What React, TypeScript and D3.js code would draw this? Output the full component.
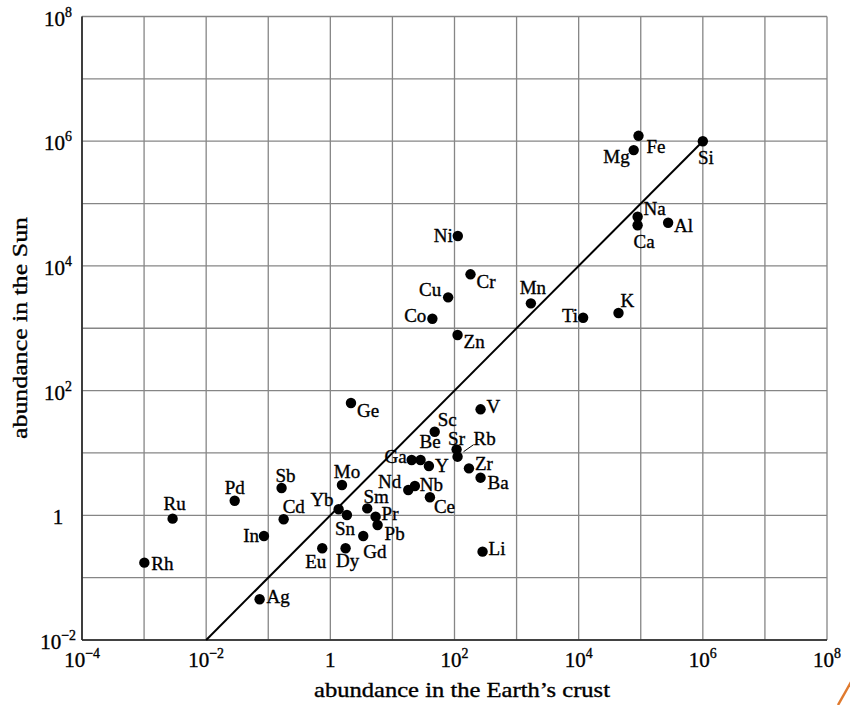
import React from "react";
import * as d3 from "d3";

// ---- data ----
const elements = [
  "Fe", "Mg", "Si", "Na", "Ca", "Al", "Ni", "Cr", "Cu", "Co", "Zn", "Mn", "Ti", "K",
  "Ge", "V", "Sc", "Sr", "Rb", "Ga", "Be", "Y", "Zr", "Ba", "Nd", "Nb", "Ce", "Mo",
  "Sm", "Yb", "Sn", "Pr", "Pb", "Gd", "Eu", "Dy", "Li", "Ru", "Rh", "Pd", "Sb", "Cd",
  "In", "Ag",
];
const crustAbundance = [
  92000, 77000, 1e6, 89000, 89000, 276000, 113, 181, 79, 44, 112, 1700, 11800, 43800,
  2.15, 263, 48, 108, 112, 20.4, 28.4, 38.7, 171, 263, 18.0, 23.0, 40.2, 1.54,
  3.93, 1.36, 1.85, 5.36, 5.77, 3.39, 0.741, 1.76, 283, 0.00288, 0.00101, 0.0288, 0.164, 0.177,
  0.0853, 0.0726,
];
const sunAbundance = [
  1.22e6, 7.2e5, 1e6, 61500, 44800, 49300, 30200, 7330, 3130, 1420, 780, 2510, 1476, 1758,
  63.2, 50.1, 21.9, 11.4, 8.71, 7.71, 7.71, 6.18, 5.66, 4.01, 2.55, 2.95, 1.95, 3.06,
  1.29, 1.25, 1.01, 0.95, 0.70, 0.466, 0.296, 0.296, 0.261, 0.883, 0.174, 1.71, 2.74, 0.863,
  0.466, 0.045,
];
const xTickExponents = [-4, -2, 0, 2, 4, 6, 8];
const yTickExponents = [-2, 0, 2, 4, 6, 8];
const equalityLine = [1e-2, 1e6];

// label placement: [dx, dy, anchor]
const labelPlacement: Record<string, [number, number, string]> = {
  Fe: [8, 17, "start"], Mg: [-4, 13, "end"], Si: [3, 23, "middle"], Na: [6, -2, "start"],
  Ca: [-4, 23, "start"], Al: [6, 9, "start"], Ni: [-5, 6, "end"], Cr: [6, 14, "start"],
  Cu: [-7, -1, "end"], Co: [-6, 3, "end"], Zn: [6, 13, "start"], Mn: [2, -9, "middle"],
  Ti: [-5, 4, "end"], K: [2, -6, "start"], Ge: [6, 14, "start"], V: [6, 4, "start"],
  Sc: [3, -6, "start"], Sr: [0, -4, "middle"], Rb: [16, -12, "start"], Ga: [-5, 3, "end"],
  Be: [-1, -12, "start"], Y: [6, 6, "start"], Zr: [6, 2, "start"], Ba: [7, 11, "start"],
  Nd: [-7, -2, "end"], Nb: [5, 5, "start"], Ce: [4, 16, "start"], Mo: [5, -7, "middle"],
  Sm: [9, -5, "middle"], Yb: [-5, -3, "end"], Sn: [-2, 20, "middle"], Pr: [6, 3, "start"],
  Pb: [7, 15, "start"], Gd: [0, 22, "start"], Eu: [4, 20, "end"], Dy: [2, 19, "middle"],
  Li: [6, 3, "start"], Ru: [2, -9, "middle"], Rh: [7, 7, "start"], Pd: [0, -7, "middle"],
  Sb: [4, -6, "middle"], Cd: [-1, -6, "start"], In: [-5, 6, "end"], Ag: [7, 4, "start"],
};

const FONT = "Liberation Serif, Times New Roman, serif";

export default function App() {
  const W = 850, H = 705;
  const left = 82, right = 827, top = 16.5, bottom = 640;
  const x = d3.scaleLog().domain([1e-4, 1e8]).range([left, right]);
  const y = d3.scaleLog().domain([1e-2, 1e8]).range([bottom, top]);
  const xGrid = d3.range(-4, 9).map((e) => Math.pow(10, e));
  const yGrid = d3.range(-2, 9).map((e) => Math.pow(10, e));
  const gridColor = "#868686";
  const textStroke = { stroke: "#000", strokeWidth: 0.35 };

  const tickLabel = (e: number, size: number) =>
    e === 0 ? (
      <tspan>1</tspan>
    ) : (
      <>
        <tspan>10</tspan>
        <tspan fontSize={size * 0.66} dy={-size * 0.42}>
          {e < 0 ? "\u2212" + Math.abs(e) : String(e)}
        </tspan>
      </>
    );

  const rb = elements.indexOf("Rb");

  return (
    <svg
      width={W}
      height={H}
      style={{ position: "absolute", left: 0, top: 0, background: "#fff", fontFamily: FONT }}
    >
      <rect x={0} y={0} width={W} height={H} fill="#fff" />
      {/* grid */}
      {xGrid.map((v, i) => (
        <line key={"gx" + i} x1={x(v)} x2={x(v)} y1={top} y2={bottom} stroke={gridColor} strokeWidth={1.3} />
      ))}
      {yGrid.map((v, i) => (
        <line key={"gy" + i} x1={left} x2={right} y1={y(v)} y2={y(v)} stroke={gridColor} strokeWidth={1.3} />
      ))}
      {/* axes */}
      <line x1={left} x2={left} y1={top} y2={bottom} stroke="#222" strokeWidth={1.6} />
      <line x1={left} x2={right} y1={bottom} y2={bottom} stroke="#222" strokeWidth={1.6} />

      {/* y = x line */}
      <line
        x1={x(equalityLine[0])}
        y1={y(equalityLine[0])}
        x2={x(equalityLine[1])}
        y2={y(equalityLine[1])}
        stroke="#000"
        strokeWidth={2}
      />

      {/* tick labels */}
      {xTickExponents.map((e) => (
        <text key={"xt" + e} x={x(Math.pow(10, e))} y={667} fontSize={21} textAnchor="middle" fill="#000" {...textStroke}>
          {tickLabel(e, 21)}
        </text>
      ))}
      {yTickExponents.map((e) => (
        <text key={"yt" + e} x={58} y={y(Math.pow(10, e)) + 9} fontSize={21} textAnchor="middle" fill="#000" {...textStroke}>
          {tickLabel(e, 21)}
        </text>
      ))}

      {/* axis titles */}
      <text x={462} y={697} fontSize={21} textAnchor="middle" fill="#000" textLength={296} lengthAdjust="spacingAndGlyphs" {...textStroke}>
        abundance in the Earth’s crust
      </text>
      <text
        transform={`translate(27, 328) rotate(-90)`}
        fontSize={21}
        textAnchor="middle"
        fill="#000"
        textLength={222}
        lengthAdjust="spacingAndGlyphs"
        {...textStroke}
      >
        abundance in the Sun
      </text>

      {/* Rb leader line */}
      <line
        x1={x(crustAbundance[rb]) + 6}
        y1={y(sunAbundance[rb]) - 5}
        x2={x(crustAbundance[rb]) + 16}
        y2={y(sunAbundance[rb]) - 12}
        stroke="#000"
        strokeWidth={1}
      />

      {/* points */}
      {elements.map((el, i) => (
        <circle key={"p" + el} cx={x(crustAbundance[i])} cy={y(sunAbundance[i])} r={5.2} fill="#000" />
      ))}
      {/* labels */}
      {elements.map((el, i) => {
        const [dx, dy, anchor] = labelPlacement[el];
        return (
          <text
            key={"l" + el}
            x={x(crustAbundance[i]) + dx}
            y={y(sunAbundance[i]) + dy}
            fontSize={19}
            textAnchor={anchor as any}
            fill="#000"
            {...textStroke}
          >
            {el}
          </text>
        );
      })}

      {/* corner decoration */}
      <line x1={838} y1={705} x2={851} y2={682} stroke="#e07a2e" strokeWidth={2.5} />
    </svg>
  );
}
